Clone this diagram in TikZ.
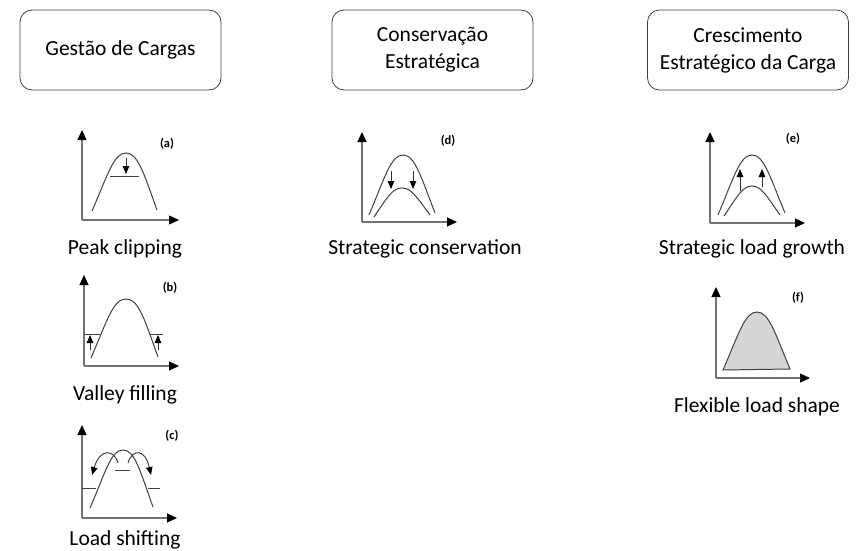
\documentclass[tikz,border=0pt]{standalone}
\usepackage{fontspec}
\setmainfont{Carlito}
\usetikzlibrary{arrows.meta}
\begin{document}
\begin{tikzpicture}[x=1pt,y=-1pt,
  catbox/.style={draw=black!75,line width=0.8pt,rounded corners=12pt,minimum width=201pt,minimum height=80pt,align=center,font=\fontsize{21.5}{27}\selectfont,inner sep=0pt},
  caption/.style={font=\fontsize{21.5}{26}\selectfont,inner sep=0pt},
  tag/.style={font=\bfseries\fontsize{12.5}{14}\selectfont,inner sep=0pt},
  axis/.style={draw=black!55,line width=1.1pt,-{Triangle[length=10pt,width=9pt,black]}},
  loadcurve/.style={draw=black!75,line width=1pt},
  level/.style={draw=black!75,line width=1pt},
  movearrow/.style={draw=black!80,line width=0.9pt,-{Triangle[length=8pt,width=6.5pt,black]}}]
\useasboundingbox (0,0) rectangle (865,551);

% strategy headers
\node[catbox] (gestao) at (120.5,50) {Gestão de Cargas};
\node[catbox] (conserv) at (432.5,50) {Conservação\\Estratégica};
\node[catbox] (cresc) at (748,50) {Crescimento\\Estratégico da Carga};

% (a) peak clipping
\coordinate (oa) at (82,220);
\draw[axis] (oa) -- (82,130);
\draw[axis] (oa) -- (179,220);
\draw[loadcurve] (92,211) .. controls (108,174) and (114,153) .. (126,153) .. controls (138,153) and (144,174) .. (157,210);
\draw[level] (110,176) -- (139,176);
\draw[movearrow] (126,158) -- (126,174);
\node[tag] (ta) at (167,144) {(a)};
\node[caption] (ca) at (125,249) {Peak clipping};

% (b) valley filling
\coordinate (ob) at (84,366);
\draw[axis] (ob) -- (84,275);
\draw[axis] (ob) -- (179,366);
\draw[loadcurve] (91,358) .. controls (107,321) and (113,299) .. (126,299) .. controls (139,299) and (145,321) .. (158,357);
\draw[level] (84,334) -- (100,334);
\draw[level] (150,334) -- (163,334);
\draw[movearrow] (90,350) -- (90,335);
\draw[movearrow] (158,350) -- (158,335);
\node[tag] (tb) at (170,288) {(b)};
\node[caption] (cb) at (125,395) {Valley filling};

% (c) load shifting
\coordinate (oc) at (82,518);
\draw[axis] (oc) -- (82,425);
\draw[axis] (oc) -- (177,518);
\draw[loadcurve] (90,508) .. controls (106,471) and (111,450) .. (123,450) .. controls (135,450) and (140,471) .. (153,507);
\draw[level] (82,488) -- (96,488);
\draw[level] (148,488) -- (160,488);
\draw[level] (115,470) -- (130,470);
\draw[movearrow] (118,463) .. controls (114,449) and (100,448) .. (92,475);
\draw[movearrow] (128,463) .. controls (132,449) and (145,448) .. (151,475);
\node[tag] (tc) at (172,436) {(c)};
\node[caption] (cc) at (125,540) {Load shifting};

% (d) strategic conservation
\coordinate (od) at (362,222);
\draw[axis] (od) -- (362,132);
\draw[axis] (od) -- (457,222);
\draw[loadcurve] (369,215) .. controls (385,177) and (391,155) .. (403,155) .. controls (415,155) and (421,177) .. (435,213);
\draw[loadcurve] (374,217) .. controls (388,196) and (393,188) .. (402,188) .. controls (411,188) and (416,196) .. (430,215);
\draw[movearrow] (391,171) -- (391,189);
\draw[movearrow] (413,171) -- (413,189);
\node[tag] (td) at (448,141) {(d)};
\node[caption] (cd) at (425,249) {Strategic conservation};

% (e) strategic load growth
\coordinate (oe) at (710,223);
\draw[axis] (oe) -- (710,132);
\draw[axis] (oe) -- (805,223);
\draw[loadcurve] (718,215) .. controls (734,177) and (740,155) .. (752,155) .. controls (764,155) and (770,177) .. (785,213);
\draw[loadcurve] (724,216) .. controls (738,195) and (743,186) .. (752,186) .. controls (761,186) and (766,195) .. (780,215);
\draw[movearrow] (740,191) -- (740,169);
\draw[movearrow] (762,187) -- (762,169);
\node[tag] (te) at (793,139) {(e)};
\node[caption] (ce) at (752,249) {Strategic load growth};

% (f) flexible load shape
\coordinate (of) at (716,378);
\draw[axis] (of) -- (716,287);
\draw[axis] (of) -- (810,378);
\draw[loadcurve,fill=black!16] (723,370) .. controls (739,333) and (745,312) .. (757,312) .. controls (769,312) and (775,333) .. (790,369) -- cycle;
\node[tag] (tf) at (798,298) {(f)};
\node[caption] (cf) at (757,407) {Flexible load shape};
\end{tikzpicture}
\end{document}
